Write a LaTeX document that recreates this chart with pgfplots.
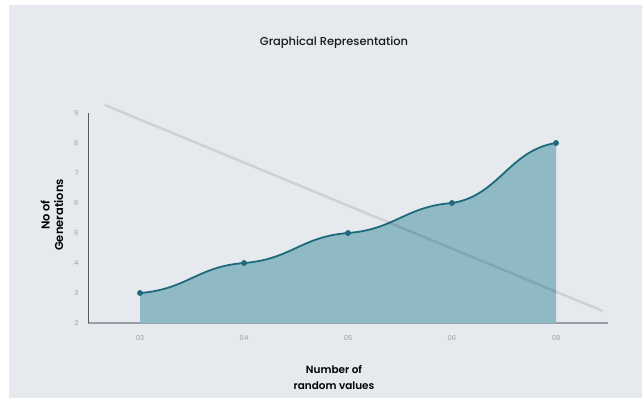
\documentclass[border=0pt]{standalone}
\usepackage{pgfplots}
\pgfplotsset{compat=1.18}
\usepackage{fontspec}
\setmainfont{Poppins}
\newfontfamily\titlefont{Poppins Medium}
\newfontfamily\labelfont{Poppins SemiBold}
\definecolor{bg}{HTML}{E6EAEE}
\definecolor{fillc}{HTML}{8FB9C5}
\definecolor{linec}{HTML}{1E6A7A}
\definecolor{tickc}{HTML}{999FA5}
\makeatletter
% plot handler: cubic segments whose tangents at the data points are near horizontal
\def\pgfplothandlerhbez{%
  \def\pgf@plotstreamstart{%
    \global\let\pgf@plotstreampoint=\pgf@plot@hbez@first
    \global\let\pgf@plotstreamspecial=\pgfutil@gobble
    \global\let\pgf@plotstreamend=\relax}}
\def\pgf@plot@hbez@first#1{%
  \pgf@process{#1}%
  \xdef\hb@lastx{\the\pgf@x}\xdef\hb@lasty{\the\pgf@y}%
  \pgf@plot@first@action{#1}%
  \global\let\pgf@plotstreampoint=\pgf@plot@hbez@next}
\def\pgf@plot@hbez@next#1{%
  \pgf@process{#1}%
  \pgf@xa=\pgf@x \pgf@ya=\pgf@y
  \pgf@xb=\pgf@xa \advance\pgf@xb by -\hb@lastx\relax
  \pgf@yb=\pgf@ya \advance\pgf@yb by -\hb@lasty\relax
  \pgf@xc=\hb@lastx\relax \advance\pgf@xc by 0.45\pgf@xb
  \pgf@yc=\hb@lasty\relax \advance\pgf@yc by 0.12\pgf@yb
  \edef\hb@cA{\noexpand\pgfqpoint{\the\pgf@xc}{\the\pgf@yc}}%
  \pgf@xc=\pgf@xa \advance\pgf@xc by -0.45\pgf@xb
  \pgf@yc=\pgf@ya \advance\pgf@yc by -0.12\pgf@yb
  \edef\hb@cB{\noexpand\pgfqpoint{\the\pgf@xc}{\the\pgf@yc}}%
  \edef\hb@end{\noexpand\pgfqpoint{\the\pgf@xa}{\the\pgf@ya}}%
  \edef\hb@do{\noexpand\pgfpathcurveto{\hb@cA}{\hb@cB}{\hb@end}}%
  \xdef\hb@lastx{\the\pgf@xa}\xdef\hb@lasty{\the\pgf@ya}%
  \hb@do}
\tikzset{hbez/.code={\let\tikz@plot@handler=\pgfplothandlerhbez}}
\makeatother
\begin{document}
\begin{tikzpicture}[x=1bp,y=1bp]
\fill[white] (0,0) rectangle (643,398);
\useasboundingbox (0,0) rectangle (643,398);
\fill[bg] (9,0) rectangle (642,393);
\begin{axis}[
  at={(88bp,75bp)}, anchor=south west, scale only axis,
  width=520bp, height=210bp,
  xmin=-0.5, xmax=4.5, ymin=2, ymax=9,
  xtick={0,1,2,3,4}, xticklabels={03,04,05,06,08},
  ytick={2,3,4,5,6,7,8,9},
  axis x line=bottom, axis y line=left,
  axis line style={-},
  x axis line style={draw=tickc, line width=1.2pt},
  y axis line style={draw=black!65, line width=0.6pt},
  major tick length=0pt,
  tick label style={font=\fontsize{6.8}{8}\selectfont, text=tickc},
  /pgf/number format/assume math mode=true,
  xticklabel style={yshift=-9bp},
  yticklabel style={xshift=-6bp},
  clip=false,
]
\addplot[fill=fillc, draw=none, hbez] coordinates {(0,3) (1,4) (2,5) (3,6) (4,8)} \closedcycle;
\addplot[linec, line width=1.8pt, hbez, mark=*, mark size=2.4pt, mark options={fill=linec, draw=linec, line width=1pt}] coordinates {(0,3) (1,4) (2,5) (3,6) (4,8)};
\addplot[black, opacity=0.1, line width=2.5pt] coordinates {(-0.34,9.27) (4.45,2.4)};
\end{axis}
\node[font=\titlefont\fontsize{11.5}{13}\selectfont, text=black!90] at (334,355) {Graphical Representation};
\node[font=\labelfont\fontsize{10.5}{16}\selectfont, align=center, inner sep=0pt] at (334,21) {Number of\\random values};
\node[font=\labelfont\fontsize{11.5}{13.5}\selectfont, align=center, rotate=90, inner sep=0pt] at (52,183) {No of\\Generations};
\end{tikzpicture}
\end{document}
